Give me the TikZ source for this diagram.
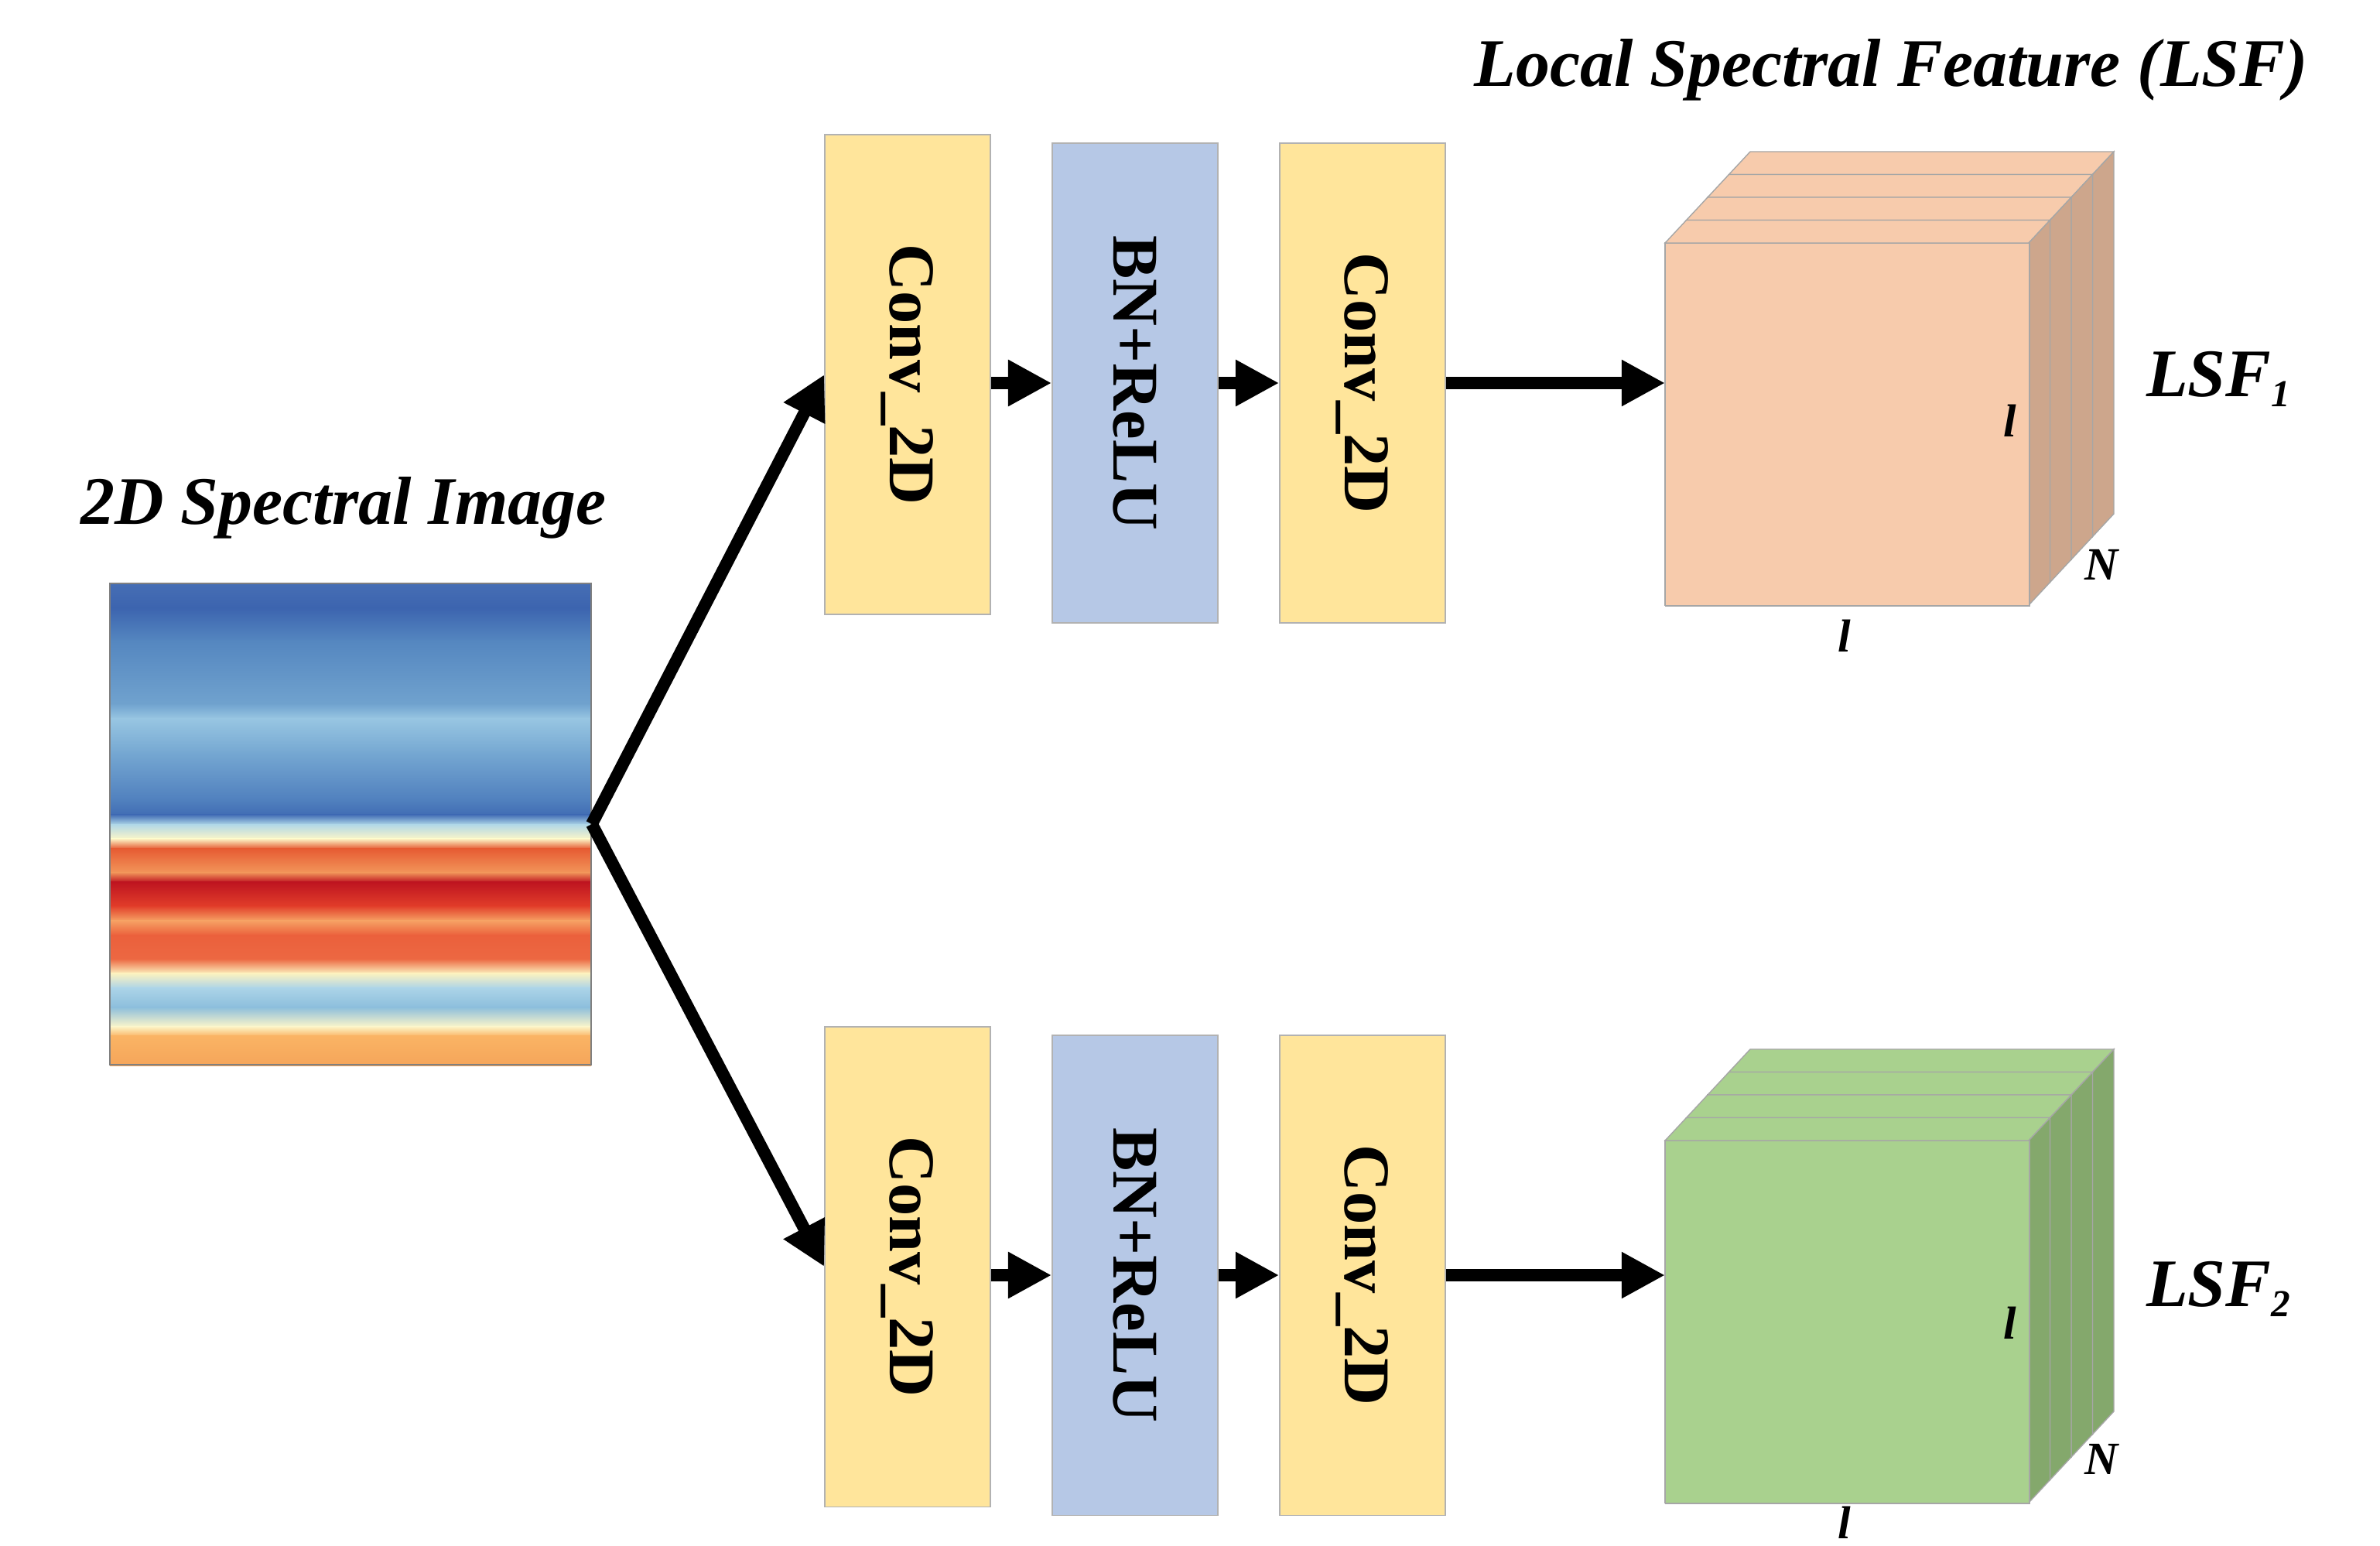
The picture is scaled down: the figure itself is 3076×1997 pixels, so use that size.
\documentclass[tikz,border=0pt]{standalone}
\usepackage{fontspec}
\setmainfont{Liberation Serif}
\usepackage{tikz}
\usetikzlibrary{arrows.meta, positioning, calc}

\definecolor{convyellow}{RGB}{255, 229, 155}
\definecolor{bnblue}{RGB}{182, 200, 230}
\definecolor{lsfpeach}{RGB}{247, 203, 172}
\definecolor{lsfpeachdark}{RGB}{205, 166, 140}
\definecolor{lsfgreen}{RGB}{169, 209, 142}
\definecolor{lsfgreendark}{RGB}{132, 168, 108}
% colour stops of the spectral image, top to bottom
\definecolor{sp0}{RGB}{70, 110, 180}
\definecolor{sp1}{RGB}{60, 100, 175}
\definecolor{sp2}{RGB}{85, 135, 192}
\definecolor{sp3}{RGB}{112, 162, 206}
\definecolor{sp4}{RGB}{152, 198, 226}
\definecolor{sp5}{RGB}{118, 168, 210}
\definecolor{sp6}{RGB}{80, 128, 190}
\definecolor{sp7}{RGB}{65, 108, 180}
\definecolor{sp8}{RGB}{175, 215, 232}
\definecolor{sp9}{RGB}{252, 246, 200}
\definecolor{sp10}{RGB}{230, 90, 50}
\definecolor{sp11}{RGB}{242, 150, 90}
\definecolor{sp12}{RGB}{190, 20, 32}
\definecolor{sp13}{RGB}{226, 62, 42}
\definecolor{sp14}{RGB}{246, 162, 100}
\definecolor{sp15}{RGB}{235, 96, 60}
\definecolor{sp16}{RGB}{236, 104, 66}
\definecolor{sp17}{RGB}{252, 242, 192}
\definecolor{sp18}{RGB}{172, 212, 232}
\definecolor{sp19}{RGB}{140, 190, 220}
\definecolor{sp20}{RGB}{252, 246, 202}
\definecolor{sp21}{RGB}{250, 180, 100}
\definecolor{sp22}{RGB}{245, 165, 90}

\tikzset{
  block/.style={draw=gray!60, minimum width=2.14cm, minimum height=6.2cm, inner sep=0pt},
  conv/.style={block, fill=convyellow},
  bn/.style={block, fill=bnblue},
  blocktext/.style={font=\fontsize{24}{28}\selectfont\bfseries, rotate=-90},
  flow/.style={-{Triangle[length=16pt, width=16pt]}, line width=4.5pt},
  cubefront/.style={draw=gray!70, minimum width=4.7cm, minimum height=4.68cm, inner sep=0pt},
  title/.style={font=\fontsize{25}{30}\selectfont\bfseries\itshape},
  dimlabel/.style={font=\fontsize{17}{20}\selectfont\bfseries\itshape}
}

% slices behind the front face: #1 front top-left corner, #2 face colour, #3 side colour
\newcommand{\featslices}[3]{%
  \foreach \k in {3,2,1,0}{
    \coordinate (tl) at ($(#1)+(27.5*\k,-29.5*\k)$);
    \fill[#2, draw=gray!70] (tl) rectangle ++(470,468);
    \filldraw[fill=#2, draw=gray!70] (tl) -- ++(27.5,-29.5) -- ++(470,0) -- ++(-27.5,29.5) -- cycle;
    \filldraw[fill=#3, draw=gray!70] ($(tl)+(470,0)$) -- ++(27.5,-29.5) -- ++(0,468) -- ++(-27.5,29.5) -- cycle;
  }%
}

\begin{document}
\begin{tikzpicture}[x=0.01cm, y=-0.01cm]
  \useasboundingbox (0,0) rectangle (3076,1997);

  % input image
  \node[title] (imgtitle) at (444,656) {2D Spectral Image};
  \foreach \ya/\ca/\yb/\cb in {0/sp0/0.05/sp1, 0.05/sp1/0.12/sp2, 0.12/sp2/0.25/sp3, 0.25/sp3/0.28/sp4,
      0.28/sp4/0.35/sp5, 0.35/sp5/0.45/sp6, 0.45/sp6/0.48/sp7, 0.48/sp7/0.5/sp8, 0.5/sp8/0.53/sp9,
      0.53/sp9/0.55/sp10, 0.55/sp10/0.6/sp11, 0.6/sp11/0.62/sp12, 0.62/sp12/0.67/sp13, 0.67/sp13/0.7/sp14,
      0.7/sp14/0.73/sp15, 0.73/sp15/0.78/sp16, 0.78/sp16/0.81/sp17, 0.81/sp17/0.84/sp18, 0.84/sp18/0.88/sp19,
      0.88/sp19/0.92/sp20, 0.92/sp20/0.94/sp21, 0.94/sp21/1/sp22}
    \shade[top color=\ca, bottom color=\cb] (142,{754+622*\ya}) rectangle (764,{754+622*\yb+1});
  \node[draw=gray, minimum width=6.22cm, minimum height=6.22cm, inner sep=0pt] (img) at (453,1065) {};

  % upper branch
  \node[conv] (conva) at (1173,484) {};
  \node[blocktext] at (conva) {Conv\_2D};
  \node[bn] (bna) at (1467,495) {};
  \node[blocktext] at (bna) {BN+ReLU};
  \node[conv] (convb) at (1761,495) {};
  \node[blocktext] at (convb) {Conv\_2D};

  % lower branch
  \node[conv] (convc) at (1173,1637) {};
  \node[blocktext] at (convc) {Conv\_2D};
  \node[bn] (bnc) at (1467,1648) {};
  \node[blocktext] at (bnc) {BN+ReLU};
  \node[conv] (convd) at (1761,1648) {};
  \node[blocktext] at (convd) {Conv\_2D};

  % feature cubes
  \node[title] (lsftitle) at (2444,90) {Local Spectral Feature (LSF)};
  \featslices{2152,314}{lsfpeach}{lsfpeachdark}
  \node[cubefront, fill=lsfpeach, anchor=north west] (cubea) at (2152,314) {};
  \featslices{2152,1474}{lsfgreen}{lsfgreendark}
  \node[cubefront, fill=lsfgreen, anchor=north west] (cubeb) at (2152,1474) {};

  \node[title] (lsfa) at (2868,490) {LSF\textsubscript{\fontsize{14}{16}\selectfont 1}};
  \node[title] (lsfb) at (2868,1666) {LSF\textsubscript{\fontsize{14}{16}\selectfont 2}};
  \node[dimlabel] at (2598,544) {l};
  \node[dimlabel] at (2716,730) {N};
  \node[dimlabel] at (2384,822) {l};
  \node[dimlabel] at (2598,1710) {l};
  \node[dimlabel] at (2716,1886) {N};
  \node[dimlabel] at (2384,1968) {l};

  % connectors
  \coordinate (split) at (img.east);
  \draw[flow] (split) -- (conva.west);
  \draw[flow] (split) -- (convc.west);
  \draw[flow] (conva.east |- bna.west) -- (bna.west);
  \draw[flow] (bna) -- (convb);
  \draw[flow] (convb) -- (cubea.west |- convb);
  \draw[flow] (convc.east |- bnc.west) -- (bnc.west);
  \draw[flow] (bnc) -- (convd);
  \draw[flow] (convd) -- (cubeb.west |- convd);
\end{tikzpicture}
\end{document}
